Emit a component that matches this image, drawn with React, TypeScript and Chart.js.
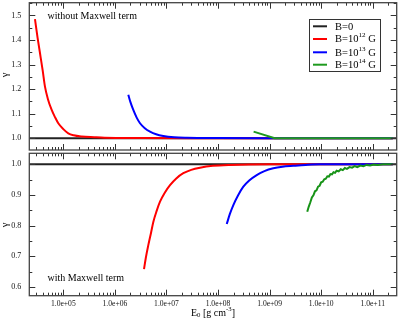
import React, { useEffect, useRef } from "react";
import { Chart, registerables } from "chart.js";
Chart.register(...registerables);

// x axis (log10 of E0 in g cm^-3)
const X_MIN_LOG = 4.34;
const X_MAX_LOG = 11.465;
const xTickExponents = [5, 6, 7, 8, 9, 10, 11];
const topYTicks = [1.0, 1.1, 1.2, 1.3, 1.4, 1.5];
const bottomYTicks = [0.6, 0.7, 0.8, 0.9, 1.0];
const TOP_Y_MIN = 0.952;
const TOP_Y_MAX = 1.552;
const BOT_Y_MIN = 0.571;
const BOT_Y_MAX = 1.036;

const seriesNames = ["B=0", "B=10^12 G", "B=10^13 G", "B=10^14 G"];

// B = 0 (both panels)
const blackLogE = [4.34, 11.465];
const blackGamma = [1.0, 1.0];

// Top panel: without Maxwell term
const redTopLogE = [4.45, 4.5, 4.547, 4.6, 4.644, 4.7, 4.774, 4.84, 4.902, 5.0, 5.096, 5.2, 5.356, 5.6, 5.8, 6.5, 7.5, 11.39];
const redTopGamma = [1.485, 1.41, 1.347, 1.275, 1.21, 1.16, 1.115, 1.085, 1.061, 1.037, 1.02, 1.012, 1.007, 1.004, 1.002, 1.0005, 1.0, 1.0];

const blueTopLogE = [6.26, 6.3, 6.357, 6.42, 6.487, 6.58, 6.681, 6.8, 6.939, 7.15, 7.393, 8.0, 9.0, 11.39];
const blueTopGamma = [1.177, 1.148, 1.115, 1.085, 1.061, 1.041, 1.027, 1.016, 1.009, 1.004, 1.002, 1.0005, 1.0, 1.0];

const greenTopLogE = [8.69, 9.1, 11.39];
const greenTopGamma = [1.027, 1.0, 1.0];

// Bottom panel: with Maxwell term
const redBotLogE = [6.565, 6.6, 6.648, 6.7, 6.745, 6.81, 6.875, 6.97, 7.069, 7.19, 7.327, 7.48, 7.651, 7.9, 8.233, 9.0, 11.39];
const redBotGamma = [0.658, 0.695, 0.736, 0.776, 0.812, 0.848, 0.878, 0.908, 0.932, 0.954, 0.971, 0.982, 0.989, 0.995, 0.998, 1.0, 1.0];

const blueBotLogE = [8.169, 8.23, 8.297, 8.39, 8.491, 8.61, 8.75, 8.9, 9.072, 9.25, 9.46, 9.7, 9.978, 11.39];
const blueBotGamma = [0.805, 0.838, 0.867, 0.899, 0.927, 0.948, 0.965, 0.978, 0.987, 0.992, 0.995, 0.998, 1.0, 1.0];

const greenBotLogE = [9.73, 9.76, 9.79, 9.82, 9.85, 9.88, 9.91, 9.94, 9.97, 10.0, 10.03, 10.06, 10.09, 10.12, 10.15, 10.18, 10.21, 10.24, 10.27, 10.3, 10.34, 10.38, 10.42, 10.46, 10.5, 10.55, 10.6, 10.65, 10.7, 10.76, 10.82, 10.88, 10.95, 11.02, 11.1, 11.2, 11.39];
const greenBotGamma = [0.845, 0.862, 0.876, 0.892, 0.899, 0.912, 0.915, 0.927, 0.93, 0.941, 0.943, 0.951, 0.953, 0.961, 0.96, 0.968, 0.967, 0.974, 0.972, 0.979, 0.977, 0.984, 0.981, 0.988, 0.985, 0.991, 0.989, 0.994, 0.991, 0.996, 0.994, 0.998, 0.996, 0.999, 0.998, 1.0, 1.0];

const COLORS = ["#222222", "#ff0000", "#0000ff", "#1f9a1f"];
const FONT = "'Liberation Serif', 'Times New Roman', serif";

function pts(logE: number[], g: number[]) {
  return logE.map((l, i) => ({ x: Math.pow(10, l), y: g[i] }));
}

function ds(logE: number[], g: number[], color: string, smooth: boolean) {
  return {
    data: pts(logE, g),
    borderColor: color,
    backgroundColor: color,
    borderWidth: 2,
    pointRadius: 0,
    fill: false,
    cubicInterpolationMode: smooth ? "monotone" : "default",
    tension: 0,
  } as any;
}

function framePlugin(yMin: number, yMax: number) {
  return {
    id: "frameTicks",
    afterDatasetsDraw(chart: any) {
      const { ctx, chartArea: a, scales } = chart;
      const xs = scales.x;
      const ys = scales.y;
      ctx.save();
      ctx.strokeStyle = "#333";
      ctx.lineWidth = 1;
      const line = (x1: number, y1: number, x2: number, y2: number) => {
        ctx.beginPath();
        ctx.moveTo(x1, y1);
        ctx.lineTo(x2, y2);
        ctx.stroke();
      };
      for (let e = 4; e <= 11; e++) {
        for (let k = 1; k <= 9; k++) {
          const v = k * Math.pow(10, e);
          const lv = Math.log10(v);
          if (lv < X_MIN_LOG || lv > X_MAX_LOG) continue;
          const px = Math.round(xs.getPixelForValue(v)) + 0.5;
          const len = k === 1 ? 6 : 3;
          line(px, a.bottom, px, a.bottom - len);
          line(px, a.top, px, a.top + len);
        }
      }
      const start = Math.ceil(yMin / 0.05 - 1e-6);
      const end = Math.floor(yMax / 0.05 + 1e-6);
      for (let i = start; i <= end; i++) {
        const v = i * 0.05;
        const py = Math.round(ys.getPixelForValue(v)) + 0.5;
        const len = i % 2 === 0 ? 6 : 3;
        line(a.left, py, a.left + len, py);
        line(a.right, py, a.right - len, py);
      }
      ctx.lineWidth = 1.3;
      ctx.strokeStyle = "#444";
      ctx.strokeRect(a.left, a.top, a.right - a.left, a.bottom - a.top);
      ctx.restore();
    },
  };
}

function drawSupText(ctx: CanvasRenderingContext2D, x: number, y: number, parts: { t: string; s?: "sup" | "sub" }[], size: number, measureOnly = false) {
  let cx = x;
  for (const p of parts) {
    const fs = p.s ? size * 0.68 : size;
    ctx.font = `${fs}px ${FONT}`;
    const dy = p.s === "sup" ? -size * 0.38 : p.s === "sub" ? size * 0.22 : 0;
    if (!measureOnly) ctx.fillText(p.t, cx, y + dy);
    cx += ctx.measureText(p.t).width;
  }
  return cx - x;
}

const topTextPlugin = {
  id: "topText",
  afterDraw(chart: any) {
    const ctx = chart.ctx as CanvasRenderingContext2D;
    ctx.save();
    ctx.fillStyle = "#000";
    ctx.textBaseline = "middle";
    ctx.font = `10px ${FONT}`;
    ctx.fillText("without Maxwell term", 47.5, 16.5);
    // gamma label
    ctx.save();
    ctx.translate(5, 75);
    ctx.rotate(-Math.PI / 2);
    ctx.textAlign = "center";
    ctx.font = `10.5px ${FONT}`;
    ctx.fillText("γ", 0, 0);
    ctx.restore();
    // legend
    ctx.fillStyle = "#fff";
    ctx.fillRect(309.5, 19.5, 71, 52);
    ctx.strokeStyle = "#333";
    ctx.lineWidth = 1;
    ctx.strokeRect(309.5, 19.5, 71, 52);
    const rows = [26.3, 39, 52.3, 64.7];
    seriesNames.forEach((name, i) => {
      const y = rows[i];
      ctx.strokeStyle = COLORS[i];
      ctx.lineWidth = 2;
      ctx.beginPath();
      ctx.moveTo(313, y);
      ctx.lineTo(327, y);
      ctx.stroke();
      ctx.fillStyle = "#000";
      const m = name.match(/^(.*)\^(\d+)(.*)$/);
      const parts = m ? [{ t: m[1] }, { t: m[2], s: "sup" as const }, { t: m[3] }] : [{ t: name }];
      drawSupText(ctx, 335, y + 0.5, parts, 10.5);
    });
    ctx.restore();
  },
};

const botTextPlugin = {
  id: "botText",
  afterDraw(chart: any) {
    const ctx = chart.ctx as CanvasRenderingContext2D;
    ctx.save();
    ctx.fillStyle = "#000";
    ctx.textBaseline = "middle";
    ctx.font = `10px ${FONT}`;
    ctx.fillText("with Maxwell term", 47.5, 128);
    ctx.save();
    ctx.translate(5, 75);
    ctx.rotate(-Math.PI / 2);
    ctx.textAlign = "center";
    ctx.font = `10.5px ${FONT}`;
    ctx.fillText("γ", 0, 0);
    ctx.restore();
    const parts = [
      { t: "E" },
      { t: "0", s: "sub" as const },
      { t: " [g cm" },
      { t: "-3", s: "sup" as const },
      { t: "]" },
    ];
    const w = drawSupText(ctx, 0, 0, parts, 10, true);
    drawSupText(ctx, 213 - w / 2, 163.5, parts, 10);
    ctx.restore();
  },
};

function makeOptions(yMin: number, yMax: number, yTicks: number[], showX: boolean, padTop: number, xHeight: number) {
  return {
    responsive: false,
    animation: false,
    maintainAspectRatio: false,
    layout: { padding: { left: 0, right: 2.3, top: padTop, bottom: showX ? 0 : 2 } },
    plugins: { legend: { display: false }, tooltip: { enabled: false } },
    scales: {
      x: {
        type: "logarithmic",
        min: Math.pow(10, X_MIN_LOG),
        max: Math.pow(10, X_MAX_LOG),
        display: showX,
        grid: { display: false, drawTicks: false },
        border: { display: false },
        afterBuildTicks: (s: any) => {
          s.ticks = xTickExponents.map((e) => ({ value: Math.pow(10, e) }));
        },
        afterFit: (s: any) => {
          s.height = xHeight;
          s.paddingLeft = 0;
          s.paddingRight = 0;
          s.paddingTop = 0;
          s.paddingBottom = 0;
        },
        ticks: {
          autoSkip: false,
          maxRotation: 0,
          minRotation: 0,
          padding: 4,
          color: "#111",
          font: { family: FONT, size: 7.6 },
          callback: (v: any) => {
            const e = Math.round(Math.log10(Number(v)));
            return "1.0e+" + String(e).padStart(2, "0");
          },
        },
      },
      y: {
        type: "linear",
        min: yMin,
        max: yMax,
        grid: { display: false, drawTicks: false },
        border: { display: false },
        afterBuildTicks: (s: any) => {
          s.ticks = yTicks.map((v) => ({ value: v }));
        },
        afterFit: (s: any) => {
          s.width = 29.3;
          s.paddingTop = 0;
          s.paddingBottom = 0;
          s.paddingLeft = 0;
          s.paddingRight = 0;
        },
        ticks: {
          padding: 8,
          color: "#111",
          font: { family: FONT, size: 8 },
          callback: (v: any) => Number(v).toFixed(1),
        },
      },
    },
  } as any;
}

export default function App() {
  const topRef = useRef<HTMLCanvasElement | null>(null);
  const botRef = useRef<HTMLCanvasElement | null>(null);

  useEffect(() => {
    document.body.style.margin = "0";
    const top = new Chart(topRef.current as HTMLCanvasElement, {
      type: "line",
      data: {
        datasets: [
          ds(greenTopLogE, greenTopGamma, COLORS[3], false),
          ds(blueTopLogE, blueTopGamma, COLORS[2], true),
          ds(redTopLogE, redTopGamma, COLORS[1], true),
          ds(blackLogE, blackGamma, COLORS[0], false),
        ],
      },
      options: makeOptions(TOP_Y_MIN, TOP_Y_MAX, topYTicks, false, 2.7, 0),
      plugins: [framePlugin(TOP_Y_MIN, TOP_Y_MAX), topTextPlugin],
    } as any);
    const bot = new Chart(botRef.current as HTMLCanvasElement, {
      type: "line",
      data: {
        datasets: [
          ds(greenBotLogE, greenBotGamma, "#179317", false),
          ds(blueBotLogE, blueBotGamma, COLORS[2], true),
          ds(redBotLogE, redBotGamma, COLORS[1], true),
          ds(blackLogE, blackGamma, COLORS[0], false),
        ],
      },
      options: makeOptions(BOT_Y_MIN, BOT_Y_MAX, bottomYTicks, true, 3.3, 27.3),
      plugins: [framePlugin(BOT_Y_MIN, BOT_Y_MAX), botTextPlugin],
    } as any);
    return () => {
      top.destroy();
      bot.destroy();
    };
  }, []);

  return (
    <div style={{ position: "fixed", left: 0, top: 0, width: 399, height: 323, background: "#fff" }}>
      <canvas ref={topRef} width={399} height={152} style={{ position: "absolute", left: 0, top: 0, width: 399, height: 152 }} />
      <canvas ref={botRef} width={399} height={173} style={{ position: "absolute", left: 0, top: 150, width: 399, height: 173 }} />
    </div>
  );
}
